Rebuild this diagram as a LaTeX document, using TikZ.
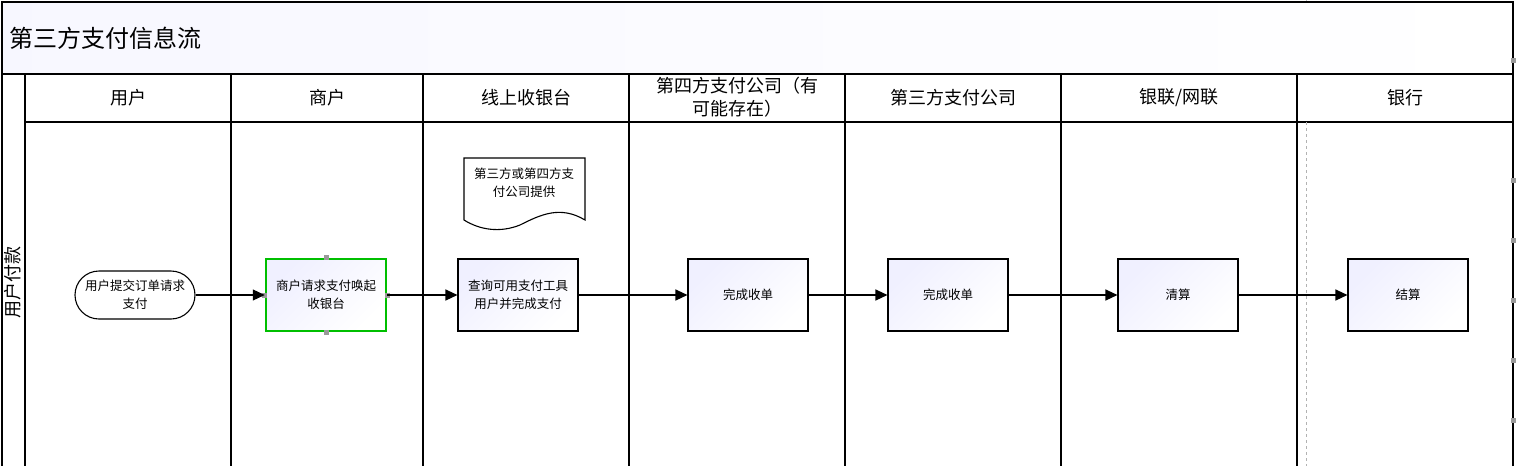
\documentclass[tikz,border=0pt]{standalone}
\usepackage{fontspec}
\setmainfont{Noto Sans CJK SC}
\usetikzlibrary{arrows.meta,positioning}
\tikzset{
  lane/.style={draw=black,line width=1.2pt},
  head/.style={font=\fontsize{18}{21}\selectfont,align=center},
  task/.style={draw=black,line width=1.1pt,minimum width=120pt,minimum height=72pt,
    align=center,font=\fontsize{12.5}{18}\selectfont,
    shading=axis,top color=blue!6,bottom color=white,shading angle=45},
  flow/.style={-{Triangle[length=12pt,width=11pt]},line width=1.2pt},
  handle/.style={fill=gray!80,minimum size=5pt,inner sep=0pt}
}
\begin{document}
\begin{tikzpicture}[x=1pt,y=-1pt]
\useasboundingbox (0,0) rectangle (1521,466);
\fill[white] (0,0) rectangle (1521,466);

% frame and lanes
\draw[gray!50] (1306,0) -- (1306,2);
\shade[left color=blue!3,right color=white] (2,2) rectangle (1513,74);
\draw[lane] (1513,466) -- (1513,2) -- (2,2) -- (2,466);
\draw[lane] (2,74) -- (1513,74);
\draw[lane] (25,122) -- (1513,122);
\foreach \x in {25,231,423,629,845,1061,1297}
  \draw[lane] (\x,74) -- (\x,466);
\draw[gray!60,dashed] (1306,122) -- (1306,466);
\foreach \y in {60,180,240,300,360,420}
  \node[handle] at (1513,\y) {};

\node[anchor=west,font=\fontsize{24}{28}\selectfont] (title) at (6,38) {第三方支付信息流};
\node[rotate=90,font=\fontsize{18}{21}\selectfont] (row) at (13,282) {用户付款};

\node[head] (h1) at (128,98) {用户};
\node[head] (h2) at (327,98) {商户};
\node[head] (h3) at (526,98) {线上收银台};
\node[head,font=\fontsize{18}{23}\selectfont] (h4) at (737,97) {第四方支付公司（有\\可能存在）};
\node[head] (h5) at (953,98) {第三方支付公司};
\node[head] (h6) at (1179,98) {银联/网联};
\node[head] (h7) at (1405,98) {银行};

% tasks
\node[task,rounded corners=24pt,minimum height=48pt,top color=white,bottom color=white]
  (user) at (135,295) {用户提交订单请求\\支付};
\node[task,draw=green!75!black,line width=2.5pt] (merchant) at (326,295) {商户请求支付唤起\\收银台};
\node[task] (cashier) at (518,295) {查询可用支付工具\\用户并完成支付};
\node[task] (fourth) at (748,295) {完成收单};
\node[task] (third) at (948,295) {完成收单};
\node[task] (union) at (1178,295) {清算};
\node[task] (bank) at (1408,295) {结算};

\foreach \a in {north,south,east,west}
  \node[handle] at (merchant.\a) {};

% document
\draw[line width=1.1pt,fill=white] (464,158) -- (585,158) -- (585,220)
  .. controls (560,205) and (540,215) .. (520,225)
  .. controls (500,233) and (480,230) .. (464,220) -- cycle;
\node[font=\fontsize{12.5}{18}\selectfont,align=center] (doc) at (524,183) {第三方或第四方支\\付公司提供};

\draw[flow] (user) -- (merchant);
\draw[flow] (merchant) -- (cashier);
\draw[flow] (cashier) -- (fourth);
\draw[flow] (fourth) -- (third);
\draw[flow] (third) -- (union);
\draw[flow] (union) -- (bank);
\end{tikzpicture}
\end{document}
